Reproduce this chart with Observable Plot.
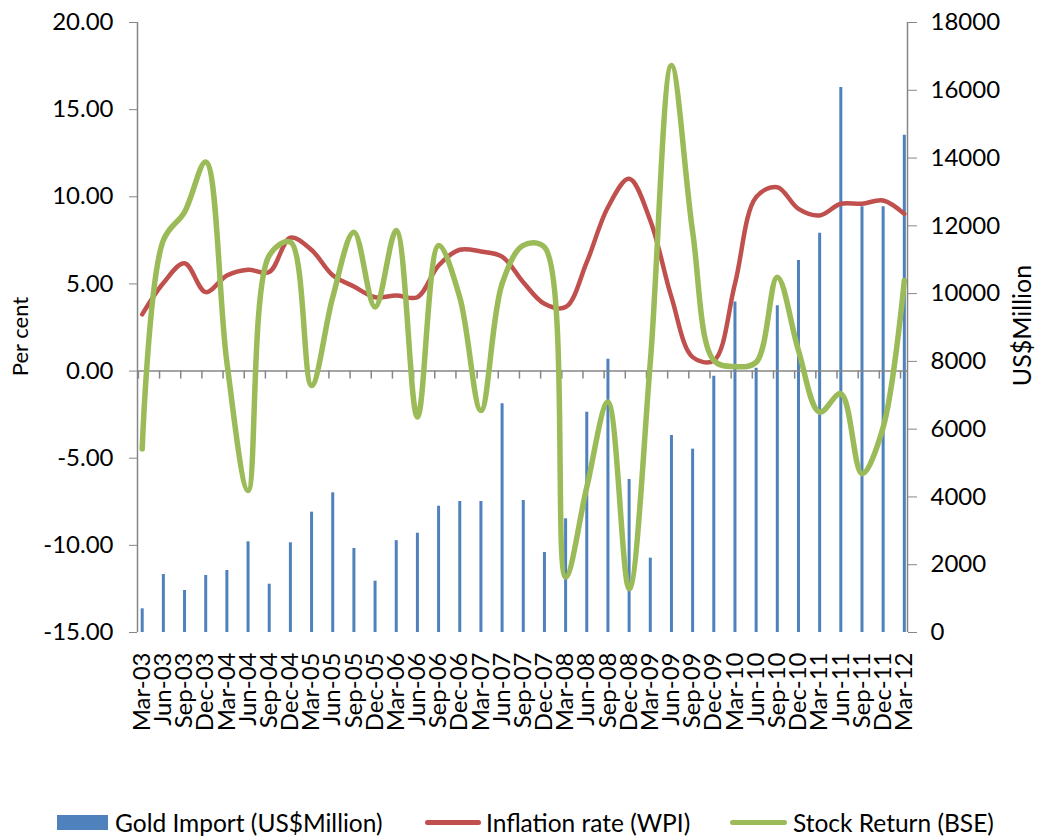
<!DOCTYPE html>
<html>
<head>
<meta charset="utf-8">
<script src="https://cdn.jsdelivr.net/npm/d3@7"></script>
<script src="https://cdn.jsdelivr.net/npm/@observablehq/plot@0.6"></script>
<style>
  html, body { margin: 0; padding: 0; background: #fff; }
  body { width: 1037px; height: 838px; position: relative; overflow: hidden; font-family: Lato, "Open Sans", sans-serif; }
  #legend { position: absolute; left: 0; top: 806px; width: 1037px; height: 32px; font-size: 24.5px; color: #000; }
  .item { position: absolute; top: 0; height: 32px; display: flex; align-items: center; white-space: nowrap; }
  .sw { display: inline-block; }
</style>
</head>
<body>
<div id="chart"></div>
<div id="legend">
  <div class="item" style="left:57px"><span class="sw" style="width:51px;height:15px;background:#4F81BD;margin-right:7px"></span>Gold Import (US$Million)</div>
  <div class="item" style="left:425px"><span class="sw" style="width:56px;height:5px;background:#C0504D;border-radius:3px;margin-right:5px"></span>Inflation rate (WPI)</div>
  <div class="item" style="left:730px"><span class="sw" style="width:57px;height:5px;background:#9BBB59;border-radius:3px;margin-right:6px"></span>Stock Return (BSE)</div>
</div>
<script>
const quarters = ["Mar-03","Jun-03","Sep-03","Dec-03","Mar-04","Jun-04","Sep-04","Dec-04",
  "Mar-05","Jun-05","Sep-05","Dec-05","Mar-06","Jun-06","Sep-06","Dec-06",
  "Mar-07","Jun-07","Sep-07","Dec-07","Mar-08","Jun-08","Sep-08","Dec-08",
  "Mar-09","Jun-09","Sep-09","Dec-09","Mar-10","Jun-10","Sep-10","Dec-10",
  "Mar-11","Jun-11","Sep-11","Dec-11","Mar-12"];

// Gold import, US$ million (right axis)
const goldImport = [699, 1711, 1239, 1682, 1829, 2676, 1425, 2647,
  3550, 4122, 2479, 1514, 2710, 2930, 3727, 3866,
  3866, 6750, 3895, 2361, 3354, 6500, 8060, 4515,
  2193, 5813, 5410, 7560, 9750, 7800, 9640, 10980,
  11780, 16080, 12560, 12560, 14670];

// Inflation rate (WPI), per cent (left axis)
const inflation = [3.25, 5.05, 6.19, 4.53, 5.48, 5.81, 5.68, 7.65,
  6.95, 5.50, 4.85, 4.24, 4.34, 4.24, 6.06, 6.96,
  6.86, 6.57, 5.10, 3.86, 3.67, 6.25, 9.40, 11.03,
  8.64, 4.24, 0.80, 0.60, 5.01, 9.98, 10.55, 9.31,
  8.93, 9.60, 9.60, 9.79, 9.02];

// Stock return (BSE), per cent (left axis)
const stockReturn = [-4.46, 7.50, 9.12, 12.00, 0.50, -6.85, 6.63, 7.40,
  -0.83, 4.24, 7.97, 3.67, 8.07, -2.64, 7.21, 4.24,
  -2.26, 5.01, 7.21, 7.11, -11.82, -6.66, -1.78, -12.49,
  0.50, 17.53, 8.00, 0.61, 0.26, 0.50, 5.39, 1.18,
  -2.36, -1.30, -5.89, -3.22, 5.20];

const leftTicks = [-15, -10, -5, 0, 5, 10, 15, 20];
const rightTicks = [0, 2000, 4000, 6000, 8000, 10000, 12000, 14000, 16000, 18000];

const yMin = -15, yMax = 20, goldMax = 18000;
const goldToLeft = g => yMin + g * (yMax - yMin) / goldMax;
const leftToGold = v => (v - yMin) * goldMax / (yMax - yMin);

const rows = quarters.map((q, i) => ({i, q, gold: goldImport[i], infl: inflation[i], stock: stockReturn[i]}));
const xDomain = [-0.222, 36.15];
const gray = "#868686";

const chart = Plot.plot({
  width: 1037,
  height: 790,
  marginLeft: 137,
  marginRight: 130,
  marginTop: 22,
  marginBottom: 158,
  style: {fontFamily: "Lato, 'Open Sans', sans-serif", fontSize: "24px", color: "#000", background: "#fff"},
  x: {type: "linear", domain: xDomain},
  y: {domain: [yMin, yMax]},
  marks: [
    Plot.ruleX(rows, {x: "i", y1: yMin, y2: d => goldToLeft(d.gold), stroke: "#4F81BD", strokeWidth: 3}),
    Plot.ruleY([0], {stroke: gray, strokeWidth: 1.5}),
    Plot.ruleX(rows, {x: d => d.i - 0.18, y1: 0, y2: -0.46, stroke: gray, strokeWidth: 1.5}),
    Plot.ruleX([xDomain[0]], {stroke: gray, strokeWidth: 1.5}),
    Plot.ruleX([xDomain[1]], {stroke: gray, strokeWidth: 1.5}),
    Plot.line(rows, {x: "i", y: "infl", stroke: "#C0504D", strokeWidth: 4.5, curve: "catmull-rom"}),
    Plot.line(rows, {x: "i", y: "stock", stroke: "#9BBB59", strokeWidth: 5.5, curve: "catmull-rom"}),
    Plot.axisY({ticks: leftTicks, tickFormat: d => d.toFixed(2), tickSize: 8, tickPadding: 16, label: null, stroke: gray, fill: "black", fontSize: 24}),
    Plot.axisY({anchor: "right", ticks: rightTicks.map(goldToLeft), tickFormat: v => String(Math.round(leftToGold(v))), tickSize: 9, tickPadding: 14, label: null, stroke: gray, fill: "black", fontSize: 24}),
    Plot.axisX({ticks: rows.map(d => d.i), tickFormat: i => quarters[i], tickRotate: -90, tickSize: 0, tickPadding: 20, label: null, fill: "black", fontSize: 24}),
    Plot.text(["Per cent"], {frameAnchor: "left", textAnchor: "middle", dx: -117, dy: 9, rotate: -90, fontSize: 22, fill: "black"}),
    Plot.text(["US$Million"], {frameAnchor: "right", textAnchor: "middle", dx: 115, dy: -2, rotate: -90, fontSize: 25, fill: "black"})
  ]
});
document.getElementById("chart").appendChild(chart);
</script>
</body>
</html>
